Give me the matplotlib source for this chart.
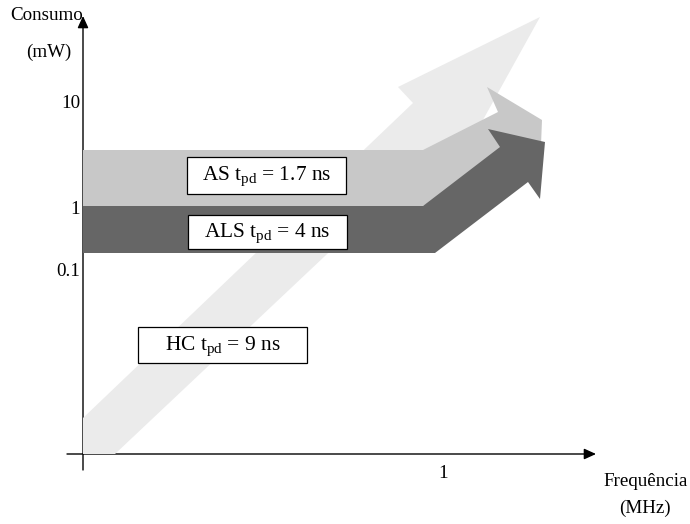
import matplotlib
matplotlib.use("Agg")
import matplotlib.pyplot as plt
from matplotlib.patches import Polygon, Rectangle

plt.rcParams['font.family'] = ['Liberation Serif', 'DejaVu Serif']
plt.rcParams['mathtext.fontset'] = 'custom'
plt.rcParams['mathtext.rm'] = 'Liberation Serif'
plt.rcParams['mathtext.it'] = 'Liberation Serif:italic'
plt.rcParams['mathtext.default'] = 'regular'

# ---- diagram data (schematic, in image-space units) ----
y_tick_labels = ["10", "1", "0.1"]
y_tick_pos = [104, 209, 271]
x_tick_labels = ["1"]
x_tick_pos = [443]

families = ["HC", "AS", "ALS"]
tpd_ns = ["9", "1.7", "4"]

hc_arrow_x = [83, 83, 413, 398, 540, 463, 448, 115]
hc_arrow_y = [454, 418, 103, 87, 17, 156, 140, 454]

as_arrow_x = [83, 423, 498, 487, 542, 541, 423, 83]
as_arrow_y = [150, 150, 112, 87, 120, 145, 206, 206]

als_arrow_x = [83, 423, 500, 488, 545, 540, 528, 435, 83]
als_arrow_y = [206, 206, 147, 129, 142, 199, 182, 253, 253]

arrow_colors = {"HC": "#ebebeb", "AS": "#c8c8c8", "ALS": "#666666"}
arrow_shapes = {"HC": (hc_arrow_x, hc_arrow_y),
                "AS": (as_arrow_x, as_arrow_y),
                "ALS": (als_arrow_x, als_arrow_y)}

# label boxes: (x0, y0, x1, y1)
boxes = {"AS": (187, 157, 346, 194),
         "ALS": (188, 215, 347, 249),
         "HC": (138, 327, 307, 363)}

fig = plt.figure(figsize=(6.9, 5.24), dpi=100)
ax = fig.add_axes([0, 0, 1, 1])
ax.set_xlim(0, 690)
ax.set_ylim(524, 0)
ax.axis('off')

# axes with arrowheads
ap = dict(arrowstyle='-|>,head_length=0.55,head_width=0.25', lw=1.0,
          color='black', mutation_scale=13, shrinkA=0, shrinkB=0)
ax.annotate('', xy=(83, 16), xytext=(83, 470), arrowprops=ap, zorder=1)
ax.annotate('', xy=(596, 454), xytext=(67, 454), arrowprops=ap, zorder=1)

# arrows (light, mid, dark)
for i, fam in enumerate(["HC", "AS", "ALS"]):
    xs, ys = arrow_shapes[fam]
    ax.add_patch(Polygon(list(zip(xs, ys)), closed=True,
                         facecolor=arrow_colors[fam], edgecolor='none',
                         zorder=2 + i))

# label boxes
for fam, t in zip(families, tpd_ns):
    x0, y0, x1, y1 = boxes[fam]
    ax.add_patch(Rectangle((x0, y0), x1 - x0, y1 - y0, facecolor='white',
                           edgecolor='black', lw=0.9, zorder=6))
    ax.text((x0 + x1) / 2, (y0 + y1) / 2 + 1, fam + r" t$_{pd}$ = " + t + " ns",
            ha='center', va='center', fontsize=15.4, zorder=7)

# axis texts
fs = 13.7
ax.text(83, 15, "Consumo", ha='right', va='center', fontsize=fs)
ax.text(49, 52, "(mW)", ha='center', va='center', fontsize=fs)
for lab, yp in zip(y_tick_labels, y_tick_pos):
    ax.text(80, yp, lab, ha='right', va='center', fontsize=fs)
for lab, xp in zip(x_tick_labels, x_tick_pos):
    ax.text(xp, 473, lab, ha='center', va='center', fontsize=fs)
ax.text(646, 481, "Frequência", ha='center', va='center', fontsize=fs)
ax.text(645, 508, "(MHz)", ha='center', va='center', fontsize=fs)

fig.savefig("out.png", dpi=100)
